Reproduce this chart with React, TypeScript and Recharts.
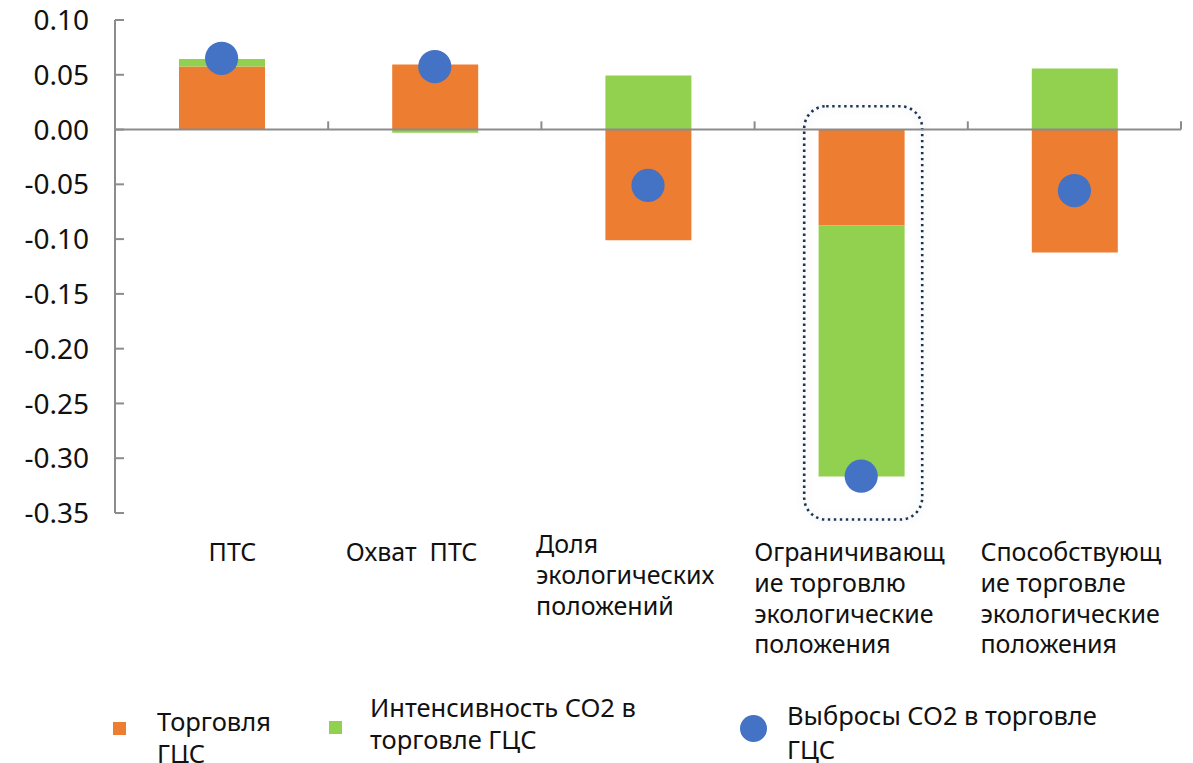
import { Bar, ComposedChart, Legend, ReferenceArea, ReferenceLine, Scatter, XAxis, YAxis } from 'recharts'

const categories = [
  'ПТС',
  'Охват  ПТС',
  'Доля экологических положений',
  'Ограничивающие торговлю экологические положения',
  'Способствующие торговле экологические положения',
]
const categoryLines = [
  ['ПТС'],
  ['Охват  ПТС'],
  ['Доля', 'экологических', 'положений'],
  ['Ограничивающ', 'ие торговлю', 'экологические', 'положения'],
  ['Способствующ', 'ие торговле', 'экологические', 'положения'],
]
const tradeGvc = [0.0575, 0.0593, -0.101, -0.0876, -0.1123]
const co2Intensity = [0.007, -0.003, 0.0493, -0.229, 0.0557]
const co2Emissions = [0.065, 0.0575, -0.051, -0.3164, -0.0557]
const yTicks = [0.1, 0.05, 0, -0.05, -0.1, -0.15, -0.2, -0.25, -0.3, -0.35]
const legendLines = [
  ['Торговля', 'ГЦС'],
  ['Интенсивность CO2 в', 'торговле ГЦС'],
  ['Выбросы CO2 в торговле', 'ГЦС'],
]
const highlighted = categories[3]

const ORANGE = '#ED7D31'
const GREEN = '#92D050'
const BLUE = '#4472C4'
const AXIS = '#8c8c8c'
const FONT = "'Noto Sans', 'Open Sans', sans-serif"

const data = categories.map((name, i) => ({
  name,
  trade: tradeGvc[i],
  intensity: co2Intensity[i],
  emissions: co2Emissions[i],
}))

// label placement (Excel wraps them left-aligned, each a bit differently)
const labelDx = [-13, -89, -112, -107, -94]
const labelDy = [0, 0, -8, 0, 0]

function CategoryTick(props: any) {
  const { x, y, payload } = props
  const idx = categories.indexOf(payload.value)
  const lines = categoryLines[idx] ?? [payload.value]
  const left = x + labelDx[idx]
  return (
    <text
      x={left}
      y={y + 48 + labelDy[idx]}
      fontSize={25}
      fontFamily={FONT}
      fill="#111"
      style={{ whiteSpace: 'pre' }}
    >
      {lines.map((l, i) => (
        <tspan key={i} x={left} dy={i === 0 ? 0 : 30.8}>
          {l}
        </tspan>
      ))}
    </text>
  )
}

function ValueTick(props: any) {
  const { x, y, payload } = props
  return (
    <g>
      <line x1={x} x2={x + 9} y1={y} y2={y} stroke={AXIS} strokeWidth={2} />
      <text x={x - 26} y={y} dy="0.36em" textAnchor="end" fontSize={28} fontFamily={FONT} fill="#111">
        {Number(payload.value).toFixed(2)}
      </text>
    </g>
  )
}

function BoundaryTick(props: any) {
  const { x, y, width, height } = props
  return <line x1={x + width} x2={x + width} y1={y} y2={y + height} stroke={AXIS} strokeWidth={2} />
}

function HighlightBox(props: any) {
  const { x, y, width, height } = props
  const cx = x + width / 2
  return (
    <g>
      <defs>
        <filter id="soft" x="-30%" y="-10%" width="160%" height="120%">
          <feDropShadow dx="0" dy="0" stdDeviation="4" floodColor="#000" floodOpacity="0.18" />
        </filter>
      </defs>
      <rect
        x={cx - 57}
        y={y}
        width={118}
        height={height}
        rx={22}
        fill="none"
        stroke="#1d3557"
        strokeWidth={2.6}
        strokeDasharray="2.4 3.6"
        filter="url(#soft)"
      />
    </g>
  )
}

function Dot(props: any) {
  const { cx, cy } = props
  return <circle cx={cx} cy={cy} r={16.6} fill={BLUE} />
}

function LegendContent() {
  const text = { position: 'absolute' as const, fontSize: 25.5, lineHeight: '32px', color: '#111', whiteSpace: 'nowrap' as const }
  return (
    <div style={{ position: 'relative', width: 1193, height: 75, fontFamily: FONT }}>
      <div style={{ position: 'absolute', left: 113, top: 34, width: 13, height: 13, background: ORANGE }} />
      <div style={{ ...text, left: 157, top: 17 }}>
        {legendLines[0][0]}
        <br />
        {legendLines[0][1]}
      </div>
      <div style={{ position: 'absolute', left: 329, top: 33, width: 13, height: 13, background: GREEN }} />
      <div style={{ ...text, left: 370, top: 3 }}>
        {legendLines[1][0]}
        <br />
        {legendLines[1][1]}
      </div>
      <div style={{ position: 'absolute', left: 740, top: 27, width: 27, height: 27, borderRadius: '50%', background: BLUE }} />
      <div style={{ ...text, left: 787, top: 10, lineHeight: '34px' }}>
        {legendLines[2][0]}
        <br />
        {legendLines[2][1]}
      </div>
    </div>
  )
}

export default function App() {
  return (
    <div style={{ position: 'absolute', left: 0, top: 0, width: 1193, height: 763, background: '#fff' }}>
      <ComposedChart
        width={1193}
        height={763}
        data={data}
        stackOffset="sign"
        margin={{ top: 20, right: 12, left: 0, bottom: 0 }}
      >
        <XAxis
          dataKey="name"
          axisLine={false}
          tickLine={false}
          tickSize={0}
          tickMargin={0}
          height={175}
          interval={0}
          tick={<CategoryTick />}
        />
        <YAxis
          width={115}
          domain={[-0.35, 0.1]}
          ticks={yTicks}
          allowDataOverflow
          axisLine={{ stroke: AXIS, strokeWidth: 2 }}
          tickLine={false}
          tickSize={0}
          tickMargin={0}
          tick={<ValueTick />}
        />
        <Bar dataKey="trade" stackId="a" fill={ORANGE} barSize={86} isAnimationActive={false} />
        <Bar dataKey="intensity" stackId="a" fill={GREEN} barSize={86} isAnimationActive={false} />
        <ReferenceLine y={0} stroke={AXIS} strokeWidth={2} />
        {categories.map((c) => (
          <ReferenceArea key={c} x1={c} x2={c} y1={0} y2={0.0075} shape={<BoundaryTick />} ifOverflow="visible" />
        ))}
        <ReferenceArea
          x1={highlighted}
          x2={highlighted}
          y1={0.0213}
          y2={-0.356}
          shape={<HighlightBox />}
          ifOverflow="visible"
        />
        <Scatter dataKey="emissions" fill={BLUE} shape={<Dot />} isAnimationActive={false} />
        <Legend verticalAlign="bottom" wrapperStyle={{ left: 0, bottom: 0, width: 1193, height: 75 }} content={<LegendContent />} />
      </ComposedChart>
    </div>
  )
}
